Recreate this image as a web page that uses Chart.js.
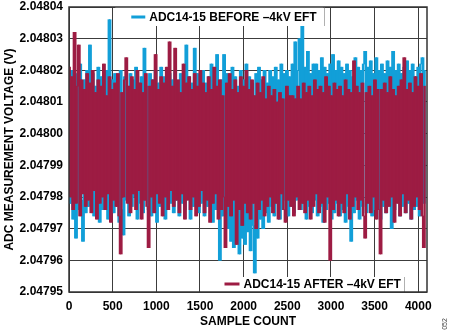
<!DOCTYPE html>
<html>
<head>
<meta charset="utf-8">
<script src="https://cdn.jsdelivr.net/npm/chart.js@4/dist/chart.umd.min.js"></script>
<style>
  html, body { margin: 0; padding: 0; background: #ffffff; }
  #wrap { position: relative; width: 450px; height: 331px; }
</style>
</head>
<body>
<div id="wrap"><canvas id="c" width="450" height="331"></canvas></div>
<script>
// ---- data ----
const seriesNames = ['ADC14-15 BEFORE \u20134kV EFT', 'ADC14-15 AFTER \u20134kV EFT'];
const sampleStep = 16;           // one plotted reading every 16 samples
const xTicks = [0, 500, 1000, 1500, 2000, 2500, 3000, 3500, 4000];
const yTicks = [2.04795, 2.04796, 2.04797, 2.04798, 2.04799, 2.04800, 2.04801, 2.04802, 2.04803, 2.04804];

// ADC reading (V) before the -4kV EFT event
const beforeVolts = [
2.048018,2.047978,2.04802,2.047973,2.048016,2.047967,2.048019,2.047976,2.048022,2.047979,2.047966,2.048017,2.047975,2.04802,2.047977,2.048028,
2.04798,2.048019,2.047974,2.048015,2.047978,2.048021,2.047972,2.048018,2.047976,2.048016,2.047979,2.04802,2.047973,2.048036,2.047977,2.048017,
2.047975,2.048019,2.047978,2.048016,2.047972,2.04802,2.047976,2.047968,2.048018,2.047979,2.048015,2.047974,2.048019,2.047977,2.048017,2.04798,
2.048021,2.047973,2.048016,2.047978,2.048018,2.047975,2.048027,2.047979,2.048015,2.047976,2.048019,2.047974,2.048017,2.047978,2.04802,2.047972,
2.048016,2.047977,2.048021,2.04798,2.048018,2.047973,2.048015,2.047976,2.048019,2.047978,2.048017,2.047975,2.04802,2.047979,2.048016,2.047974,
2.048019,2.047978,2.048015,2.047976,2.048028,2.04798,2.048018,2.047973,2.048016,2.047977,2.048027,2.047979,2.048019,2.047975,2.048017,2.047978,
2.04802,2.047974,2.048016,2.047977,2.048018,2.047979,2.048022,2.047972,2.048015,2.047976,2.048025,2.04798,2.04796,2.048017,2.047974,2.048025,
2.047977,2.048019,2.04797,2.048016,2.047966,2.048021,2.047964,2.048018,2.047972,2.048015,2.047962,2.04802,2.047967,2.048017,2.047965,2.048022,
2.047969,2.048018,2.047963,2.048016,2.047971,2.047956,2.048019,2.047967,2.048021,2.047973,2.048017,2.04797,2.04802,2.047975,2.048016,2.047972,
2.04802,2.047977,2.048018,2.047974,2.048021,2.047978,2.048017,2.047973,2.048022,2.047976,2.048019,2.047979,2.04802,2.047974,2.048018,2.047977,
2.048022,2.047975,2.048029,2.047979,2.04802,2.04803,2.047976,2.048034,2.047978,2.048021,2.047973,2.048026,2.047977,2.048019,2.047975,2.048022,
2.047979,2.048022,2.047974,2.04802,2.047977,2.048024,2.047972,2.048021,2.047976,2.048019,2.047978,2.048022,2.047973,2.048025,2.047975,2.04802,
2.047978,2.048023,2.047974,2.048021,2.047976,2.048019,2.047972,2.048022,2.047977,2.04802,2.047966,2.048018,2.047975,2.048024,2.047979,2.048021,
2.047973,2.04802,2.047977,2.048022,2.048026,2.047975,2.048021,2.047978,2.048023,2.047974,2.048019,2.047976,2.048024,2.047979,2.04802,2.047973,
2.048022,2.047977,2.048019,2.047975,2.048023,2.047978,2.048021,2.04797,2.048026,2.047976,2.04802,2.047979,2.048022,2.047974,2.048019,2.047977,
2.048021,2.047975,2.048023,2.047978,2.04802,2.047973,2.048022,2.047976,2.048018,2.047977,2.048021,2.047974,2.048022,2.048024,2.047978,2.04802
];

// ADC reading (V) after the -4kV EFT event
const afterVolts = [
2.048021,2.04798,2.048018,2.047976,2.048032,2.047978,2.048015,2.048028,2.047974,2.048017,2.047981,2.048014,2.047977,2.048019,2.047979,2.048016,
2.047975,2.04802,2.047982,2.048013,2.047973,2.048017,2.047978,2.048015,2.04798,2.048022,2.047976,2.048012,2.047981,2.048018,2.047972,2.048014,
2.047979,2.048016,2.047977,2.048019,2.047974,2.047962,2.048013,2.04798,2.048017,2.048024,2.047978,2.048015,2.047975,2.048018,2.047981,2.048014,
2.047976,2.04802,2.047982,2.048016,2.047973,2.048013,2.047979,2.048019,2.047977,2.047964,2.048015,2.04798,2.048017,2.047975,2.048025,2.047981,
2.048014,2.047978,2.048018,2.047974,2.048016,2.04798,2.048021,2.047976,2.048029,2.047982,2.048015,2.047977,2.048027,2.047979,2.048017,2.047975,
2.048013,2.047981,2.048022,2.047973,2.048016,2.047979,2.048018,2.047976,2.048014,2.04798,2.048019,2.047974,2.048015,2.047977,2.04802,2.047982,
2.048016,2.047975,2.048013,2.047979,2.048018,2.047972,2.048014,2.047978,2.048021,2.047981,2.048015,2.047973,2.048017,2.047976,2.048012,2.04798,
2.047964,2.048016,2.047977,2.048019,2.047974,2.048014,2.047979,2.048017,2.047965,2.048013,2.047976,2.048018,2.047971,2.048015,2.047978,2.04802,
2.047975,2.048014,2.047973,2.048017,2.047978,2.048012,2.04797,2.048016,2.047976,2.048013,2.047979,2.048018,2.047974,2.048011,2.047977,2.048015,
2.04798,2.048012,2.047975,2.048014,2.047978,2.04801,2.047973,2.048013,2.047981,2.048011,2.047976,2.047972,2.048015,2.047979,2.048012,2.047977,
2.048012,2.047974,2.048011,2.04798,2.048015,2.047976,2.048011,2.047978,2.048016,2.047975,2.048013,2.047979,2.048015,2.047973,2.048012,2.047977,
2.048017,2.047981,2.048014,2.047975,2.048015,2.047978,2.048013,2.047972,2.048018,2.04798,2.048015,2.04796,2.048012,2.047976,2.048016,2.047979,
2.048014,2.047974,2.048015,2.047978,2.048012,2.047975,2.048017,2.047981,2.048014,2.047973,2.048013,2.047977,2.048023,2.04798,2.048015,2.047976,
2.048013,2.047979,2.048016,2.047974,2.047967,2.048013,2.047978,2.048015,2.047975,2.048012,2.04798,2.048017,2.047973,2.048014,2.047976,2.047962,
2.048014,2.047979,2.048016,2.047975,2.048013,2.047977,2.048018,2.04798,2.048014,2.047972,2.048012,2.047978,2.048015,2.047974,2.048017,2.047981,
2.048024,2.047975,2.048014,2.047979,2.048016,2.047973,2.048013,2.047977,2.048018,2.04798,2.048015,2.047976,2.048019,2.047974,2.047964,2.048015
];

const BLUE = '#129fd8';
const RED = '#9d1c43';
const FONT = '"Liberation Sans", Arial, Helvetica, sans-serif';

// each trace segment between consecutive readings is drawn as its vertical extent
function traceSegments(arr) {
  const out = [];
  for (let i = 0; i + 1 < arr.length; i++) {
    const a = arr[i], b = arr[i + 1];
    out.push({ x: (i + 0.5) * sampleStep, y: [Math.min(a, b), Math.max(a, b)] });
  }
  return out;
}

const overlayPlugin = {
  id: 'overlay',
  afterDatasetsDraw(chart) {
    const ctx = chart.ctx;
    const a = chart.chartArea;
    const xs = chart.scales.x;
    ctx.save();
    ctx.fillStyle = '#ffffff';
    const top = { l: xs.getPixelForValue(530), r: xs.getPixelForValue(2915), t: a.top, b: a.top + 19 };
    const bot = { l: xs.getPixelForValue(1735), r: xs.getPixelForValue(3835), t: a.bottom - 15, b: a.bottom };
    ctx.fillRect(top.l, top.t, top.r - top.l, top.b - top.t);
    ctx.fillRect(bot.l, bot.t, bot.r - bot.l, bot.b - bot.t);
    ctx.strokeStyle = '#b0b0b0';
    ctx.lineWidth = 1;
    ctx.beginPath();
    ctx.moveTo(Math.round(top.r) + 0.5, top.t); ctx.lineTo(Math.round(top.r) + 0.5, top.b);
    ctx.moveTo(Math.round(bot.r) + 0.5, bot.t); ctx.lineTo(Math.round(bot.r) + 0.5, bot.b);
    ctx.stroke();

    ctx.font = 'bold 12px ' + FONT;
    ctx.textBaseline = 'middle';
    ctx.textAlign = 'left';
    ctx.fillStyle = '#000000';
    const ty = top.t + 10;
    ctx.strokeStyle = BLUE; ctx.lineWidth = 3;
    ctx.beginPath(); ctx.moveTo(top.l + 16, ty); ctx.lineTo(top.l + 30, ty); ctx.stroke();
    ctx.fillText(seriesNames[0], top.l + 34, ty + 0.5);
    const by = bot.t + 7;
    ctx.strokeStyle = RED; ctx.lineWidth = 3;
    ctx.beginPath(); ctx.moveTo(bot.l + 4, by); ctx.lineTo(bot.l + 19, by); ctx.stroke();
    ctx.fillText(seriesNames[1], bot.l + 23, by + 0.5);

    ctx.strokeStyle = '#333333';
    ctx.lineWidth = 1.5;
    ctx.strokeRect(a.left, a.top, a.right - a.left, a.bottom - a.top);

    ctx.translate(445, 324);
    ctx.rotate(-Math.PI / 2);
    ctx.font = '7px ' + FONT;
    ctx.fillStyle = '#444';
    ctx.textAlign = 'center';
    ctx.fillText('052', 0, 0);
    ctx.restore();
  }
};

new Chart(document.getElementById('c'), {
  type: 'bar',
  data: {
    datasets: [
      { label: seriesNames[1], data: traceSegments(afterVolts), backgroundColor: RED, borderWidth: 0, barThickness: 1.8, grouped: false, order: 0 },
      { label: seriesNames[0], data: traceSegments(beforeVolts), backgroundColor: BLUE, borderWidth: 0, barThickness: 1.8, grouped: false, order: 1 }
    ]
  },
  options: {
    responsive: false,
    animation: false,
    devicePixelRatio: 1,
    layout: { padding: { left: 0, right: 23, top: 7, bottom: 0 } },
    plugins: { legend: { display: false }, tooltip: { enabled: false } },
    scales: {
      x: {
        type: 'linear', min: 0, max: 4100, offset: false,
        afterBuildTicks: s => { s.ticks = xTicks.map(v => ({ value: v })); },
        afterFit: s => { s.height = 39; s.paddingLeft = 0; s.paddingRight = 0; },
        grid: { color: '#3c3c3c', lineWidth: 1, drawTicks: false, offset: false },
        border: { display: false },
        ticks: { padding: 7, color: '#000', font: { family: FONT, size: 12, weight: 'bold' }, maxRotation: 0, autoSkip: false, callback: v => String(v) },
        title: { display: true, text: 'SAMPLE COUNT', color: '#000', font: { family: FONT, size: 12, weight: 'bold' }, padding: { top: 0, bottom: 2 } }
      },
      y: {
        type: 'linear', min: 2.04795, max: 2.04804,
        afterBuildTicks: s => { s.ticks = yTicks.map(v => ({ value: v })); },
        afterFit: s => { s.width = 69; s.paddingTop = 0; s.paddingBottom = 0; },
        grid: { color: '#3c3c3c', lineWidth: 1, drawTicks: false },
        border: { display: false },
        ticks: { padding: 6, color: '#000', font: { family: FONT, size: 12, weight: 'bold' }, autoSkip: false, callback: v => Number(v).toFixed(5) },
        title: { display: true, text: 'ADC MEASUREMENT VOLTAGE (V)', color: '#000', font: { family: FONT, size: 12, weight: 'bold' }, padding: { top: 2, bottom: 0 } }
      }
    }
  },
  plugins: [overlayPlugin]
});
</script>
</body>
</html>
